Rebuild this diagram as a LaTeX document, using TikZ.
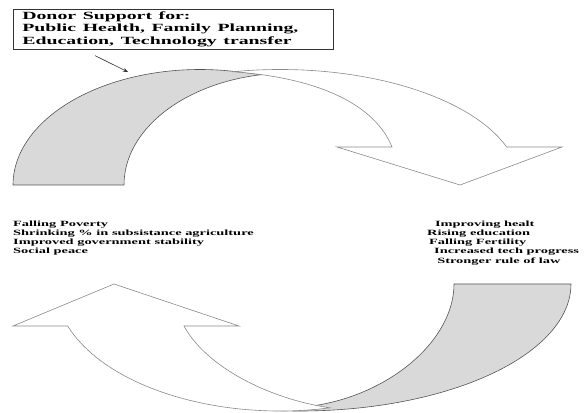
\documentclass[tikz,border=0pt]{standalone}
\usepackage{fontspec}
\setmainfont{Liberation Serif}
\usepackage{graphicx}
\usetikzlibrary{positioning,arrows.meta,calc}
\definecolor{bandgrey}{HTML}{D9D9D9}
\definecolor{edgedark}{HTML}{555555}
\definecolor{edgelight}{HTML}{8A8A8A}
\definecolor{inkgrey}{HTML}{333333}
\newcommand{\wide}[1]{\scalebox{1.8}[1]{#1}}
\tikzset{
  backband/.style ={draw=edgedark, fill=bandgrey, line width=0.6pt, line join=round},
  frontband/.style={draw=edgelight, fill=white, line width=0.6pt},
  donorbox/.style ={draw=inkgrey, fill=white, line width=0.6pt, anchor=north west,
                    inner xsep=9pt, inner ysep=0pt, text width=302pt, minimum height=40pt,
                    align=left, font=\fontsize{11}{12.5}\selectfont\bfseries},
  effects/.style  ={anchor=north west, inner sep=0pt, align=left,
                    font=\fontsize{8}{9.2}\selectfont\bfseries},
  pointarr/.style ={-{Stealth[length=5pt,width=4pt]}, draw=inkgrey, line width=0.6pt},
}

\begin{document}
\begin{tikzpicture}[x=1pt, y=1pt]
\useasboundingbox (0,0) rectangle (585,412);

% upper ribbon: grey back, white front with head
\draw[backband] (13,227) arc[start angle=180, end angle=80, x radius=187, y radius=115.5]
  -- (262.03,337.4) arc[start angle=99.7, end angle=180, x radius=166, y radius=112] -- cycle;
\draw[frontband] (233,340.26) arc[start angle=101.3, end angle=19.2, x radius=240, y radius=115.5]
  -- (562,265) -- (460,227) -- (337,265) -- (392,265)
  .. controls (375,307) and (320,334) .. (233,340.3) -- cycle;

% lower ribbon
\draw[backband] (571,128) arc[start angle=0, end angle=-95, x radius=271, y radius=127]
  -- (312,6) .. controls (390,17) and (454,72) .. (454,128) -- cycle;
\draw[frontband] (67.7,86) arc[start angle=199.31, end angle=282.8, x radius=225, y radius=127]
  .. controls (265,14) and (205,47) .. (184,86)
  -- (239,86) -- (114,128) -- (13,86) -- cycle;

\node[donorbox] (donor) at (13,403) {\wide{\begin{tabular}{@{}l@{}}Donor Support for:\\
  Public Health, Family Planning,\\ Education, Technology transfer\end{tabular}}};
\coordinate (grip) at (128,340);
\draw[pointarr] ($(donor.south west)+(82,-6)$) -- (grip);

\node[effects] (losses) at (13,192.4) {\wide{\begin{tabular}{@{}l@{}}Falling Poverty\\
  Shrinking \% in subsistance agriculture\\ Improved government stability\\ Social peace\end{tabular}}};
\node[effects] (gains) at (427,192.4) {\wide{\begin{tabular}{@{}l@{}}\hspace*{4.4pt}Improving healt\\
  Rising education\\ \hspace*{1.1pt}Falling Fertility\\ \hspace*{3.9pt}Increased tech progress\\
  \hspace*{5.6pt}Stronger rule of law\end{tabular}}};
\end{tikzpicture}
\end{document}
